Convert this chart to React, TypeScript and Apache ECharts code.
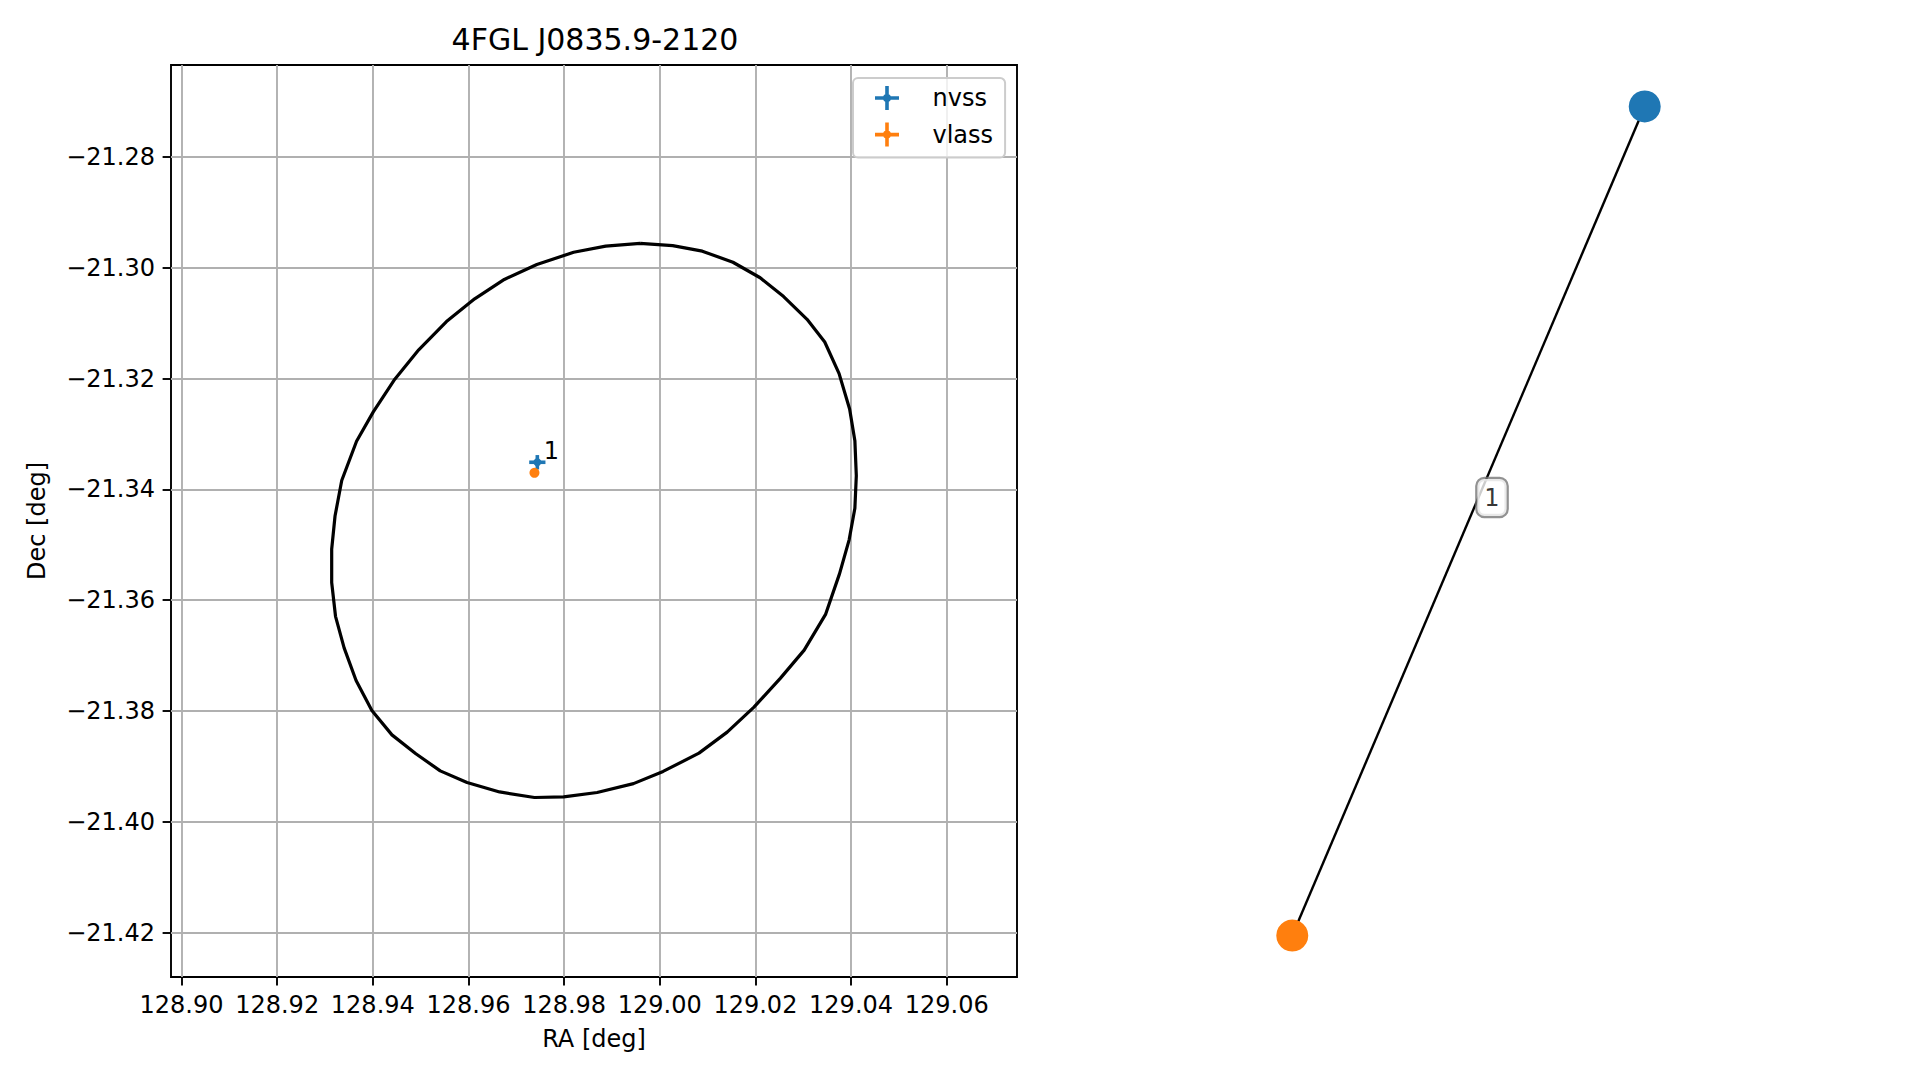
import React, { useEffect, useRef } from 'react';
import * as echarts from 'echarts';

const FONT = 'DejaVu Sans';
const TITLE = '4FGL J0835.9-2120';
const X_NAME = 'RA [deg]';
const Y_NAME = 'Dec [deg]';

const X_TICKS = [128.9, 128.92, 128.94, 128.96, 128.98, 129.0, 129.02, 129.04, 129.06];
const Y_TICKS = [-21.42, -21.4, -21.38, -21.36, -21.34, -21.32, -21.3, -21.28];
const X_RANGE = [128.8978, 129.0747];
const Y_RANGE = [-21.428, -21.2634];

const ELLIPSE_RA = [128.9959, 129.0027, 129.0089, 129.0153, 129.021, 129.0259, 129.0308, 129.0345, 129.0375, 129.0397, 129.0408, 129.0411, 129.0408, 129.0396, 129.0376, 129.0347, 129.0302, 129.0252, 129.0197, 129.0141, 129.0082, 129.0007, 128.9945, 128.9869, 128.9799, 128.9738, 128.9665, 128.9597, 128.9541, 128.949, 128.944, 128.9398, 128.9365, 128.934, 128.9322, 128.9314, 128.9314, 128.9321, 128.9335, 128.9366, 128.9401, 128.9446, 128.9496, 128.9554, 128.9613, 128.9675, 128.9743, 128.982, 128.9887, 128.9959];
const ELLIPSE_DEC = [-21.2956, -21.296, -21.297, -21.299, -21.3018, -21.3052, -21.3093, -21.3134, -21.3191, -21.3255, -21.3312, -21.3375, -21.3434, -21.3491, -21.3552, -21.3625, -21.369, -21.3741, -21.3793, -21.3838, -21.3876, -21.3909, -21.3931, -21.3947, -21.3955, -21.3956, -21.3946, -21.3929, -21.3908, -21.3877, -21.3843, -21.3799, -21.3745, -21.3686, -21.3629, -21.3568, -21.3508, -21.3448, -21.3384, -21.3313, -21.326, -21.3201, -21.3148, -21.3097, -21.3056, -21.3021, -21.2994, -21.2972, -21.2961, -21.2956];

const NVSS_RA = [128.9744];
const NVSS_DEC = [-21.3351];
const NVSS_ERR_RA = [0.0017];
const NVSS_ERR_DEC = [0.0013];
const NVSS_LABELS = ['1'];

const VLASS_RA = [128.9738];
const VLASS_DEC = [-21.337];
const VLASS_ERR_RA = [0.0001];
const VLASS_ERR_DEC = [0.0001];

const GRAPH_NODES = ['node_nvss', 'node_vlass'];
const GRAPH_NODE_X = [0.4255, -0.4255];
const GRAPH_NODE_Y = [1.0, -1.0];
const GRAPH_EDGES = [[0, 1]];
const EDGE_LABELS = ['1'];

const BLUE = '#1f77b4';
const ORANGE = '#ff7f0e';

const ICON =
  'path://M0,10.2L24,10.2L24,13.8L0,13.8Z M10.2,0L13.8,0L13.8,24L10.2,24Z M8,12A4,4 0 1 1 16,12A4,4 0 1 1 8,12Z';

const fmtY = (v: number) => (v < 0 ? '\u2212' : '') + Math.abs(v).toFixed(2);

function errRender(color: string, r: number, labels: string[] | null) {
  return (params: any, api: any) => {
    const x = api.value(0);
    const y = api.value(1);
    const ex = api.value(2);
    const ey = api.value(3);
    const c = api.coord([x, y]);
    const l = api.coord([x - ex, y]);
    const rt = api.coord([x + ex, y]);
    const t = api.coord([x, y + ey]);
    const b = api.coord([x, y - ey]);
    const children: any[] = [
      { type: 'line', shape: { x1: l[0], y1: l[1], x2: rt[0], y2: rt[1] }, style: { stroke: color, lineWidth: 3.6 } },
      { type: 'line', shape: { x1: t[0], y1: t[1], x2: b[0], y2: b[1] }, style: { stroke: color, lineWidth: 3.6 } },
      { type: 'circle', shape: { cx: c[0], cy: c[1], r }, style: { fill: color } },
    ];
    if (labels) {
      children.push({
        type: 'text',
        x: c[0] + 14,
        y: c[1] - 11,
        style: {
          text: labels[params.dataIndex],
          fill: '#000',
          font: `24px "${FONT}"`,
          textAlign: 'center',
          textVerticalAlign: 'middle',
        },
      });
    }
    return { type: 'group', children };
  };
}

export default function App() {
  const ref = useRef<HTMLDivElement>(null);
  useEffect(() => {
    if (!ref.current) return;
    const chart = echarts.init(ref.current, null, { renderer: 'svg' });
    const axisLabelStyle = { fontFamily: FONT, fontSize: 24, color: '#000' };
    const midX = (GRAPH_NODE_X[GRAPH_EDGES[0][0]] + GRAPH_NODE_X[GRAPH_EDGES[0][1]]) / 2;
    const midY = (GRAPH_NODE_Y[GRAPH_EDGES[0][0]] + GRAPH_NODE_Y[GRAPH_EDGES[0][1]]) / 2;
    const option: any = {
      animation: false,
      backgroundColor: '#fff',
      grid: [
        { left: 171, right: 902, top: 65, bottom: 103, show: true, borderColor: '#000', borderWidth: 1.9, backgroundColor: 'transparent' },
        { left: 1220, right: 202, top: 65, bottom: 103, show: false },
      ],
      xAxis: [
        {
          type: 'value', gridIndex: 0, min: X_RANGE[0], max: X_RANGE[1],
          axisLine: { show: false },
          axisTick: { show: true, customValues: X_TICKS, length: 8.4, lineStyle: { color: '#000', width: 1.9 } },
          axisLabel: { show: true, customValues: X_TICKS, formatter: (v: number) => v.toFixed(2), margin: 16, ...axisLabelStyle },
          splitLine: { show: false },
        },
        { type: 'value', gridIndex: 1, min: -0.6, max: 0.6, show: false },
      ],
      yAxis: [
        {
          type: 'value', gridIndex: 0, min: Y_RANGE[0], max: Y_RANGE[1],
          axisLine: { show: false },
          axisTick: { show: true, customValues: Y_TICKS, length: 8.4, lineStyle: { color: '#000', width: 1.9 } },
          axisLabel: { show: true, customValues: Y_TICKS, formatter: fmtY, margin: 16, ...axisLabelStyle },
          splitLine: { show: false },
        },
        { type: 'value', gridIndex: 1, min: -1.1, max: 1.1, show: false },
      ],
      legend: {
        orient: 'vertical', left: 853, top: 78,
        padding: [8, 12, 11, 22],
        itemWidth: 25, itemHeight: 24, itemGap: 12.6,
        backgroundColor: 'rgba(255,255,255,0.8)', borderColor: '#cccccc', borderWidth: 2, borderRadius: 5,
        selectedMode: false,
        textStyle: { fontFamily: FONT, fontSize: 24, color: '#000', lineHeight: 24, padding: [0, 0, 0, 28] },
        data: [
          { name: 'nvss', icon: ICON, itemStyle: { color: BLUE } },
          { name: 'vlass', icon: ICON, itemStyle: { color: ORANGE } },
        ],
        z: 10,
      },
      graphic: [
        { type: 'text', x: 595, y: 39, style: { text: TITLE, font: `30px "${FONT}"`, fill: '#000', textAlign: 'center', textVerticalAlign: 'middle' } },
        { type: 'text', x: 594, y: 1039, style: { text: X_NAME, font: `24px "${FONT}"`, fill: '#000', textAlign: 'center', textVerticalAlign: 'middle' } },
        { type: 'text', x: 37, y: 521, rotation: Math.PI / 2, style: { text: Y_NAME, font: `24px "${FONT}"`, fill: '#000', textAlign: 'center', textVerticalAlign: 'middle' } },
      ],
      series: [
        {
          type: 'line', name: 'grid', xAxisIndex: 0, yAxisIndex: 0, data: [], z: 1, silent: true,
          markLine: {
            z: 1, silent: true, symbol: ['none', 'none'], animation: false,
            label: { show: false },
            lineStyle: { color: '#b0b0b0', width: 1.9, type: 'solid' },
            emphasis: { disabled: true },
            data: [...X_TICKS.map((v) => ({ xAxis: v })), ...Y_TICKS.map((v) => ({ yAxis: v }))],
          },
        },
        {
          type: 'line', name: 'ellipse', xAxisIndex: 0, yAxisIndex: 0, z: 2, silent: true,
          showSymbol: false, symbol: 'none',
          lineStyle: { color: '#000', width: 3.2, join: 'round' },
          data: ELLIPSE_RA.map((v, i) => [v, ELLIPSE_DEC[i]]),
        },
        {
          type: 'custom', name: 'nvss', xAxisIndex: 0, yAxisIndex: 0, z: 3,
          itemStyle: { color: BLUE },
          renderItem: errRender(BLUE, 4, NVSS_LABELS),
          encode: { x: 0, y: 1 },
          data: NVSS_RA.map((v, i) => [v, NVSS_DEC[i], NVSS_ERR_RA[i], NVSS_ERR_DEC[i]]),
        },
        {
          type: 'custom', name: 'vlass', xAxisIndex: 0, yAxisIndex: 0, z: 4,
          itemStyle: { color: ORANGE },
          renderItem: errRender(ORANGE, 5, null),
          encode: { x: 0, y: 1 },
          data: VLASS_RA.map((v, i) => [v, VLASS_DEC[i], VLASS_ERR_RA[i], VLASS_ERR_DEC[i]]),
        },
        {
          type: 'graph', coordinateSystem: 'cartesian2d', xAxisIndex: 1, yAxisIndex: 1, z: 2,
          symbolSize: 32, silent: true,
          label: { show: false },
          lineStyle: { color: '#000', width: 2.4, opacity: 1, curveness: 0 },
          data: GRAPH_NODES.map((n, i) => ({ name: n, value: [GRAPH_NODE_X[i], GRAPH_NODE_Y[i]], itemStyle: { color: i === 0 ? BLUE : ORANGE } })),
          links: GRAPH_EDGES.map(([s, t]) => ({ source: GRAPH_NODES[s], target: GRAPH_NODES[t] })),
        },
        {
          type: 'scatter', name: 'edgeLabels', xAxisIndex: 1, yAxisIndex: 1, z: 6, silent: true,
          symbolSize: 0,
          data: [[midX, midY]],
          label: {
            show: true, position: 'inside', offset: [23.5, -23.5],
            formatter: (p: any) => EDGE_LABELS[p.dataIndex],
            fontFamily: FONT, fontSize: 24, lineHeight: 23, color: '#000',
            backgroundColor: '#fff', borderColor: '#777777', borderWidth: 2.2, borderRadius: 7, padding: [7, 7],
          },
        },
      ],
    };
    chart.setOption(option);
    return () => chart.dispose();
  }, []);
  return <div ref={ref} style={{ position: 'absolute', left: 0, top: 0, width: 1919, height: 1080 }} />;
}
